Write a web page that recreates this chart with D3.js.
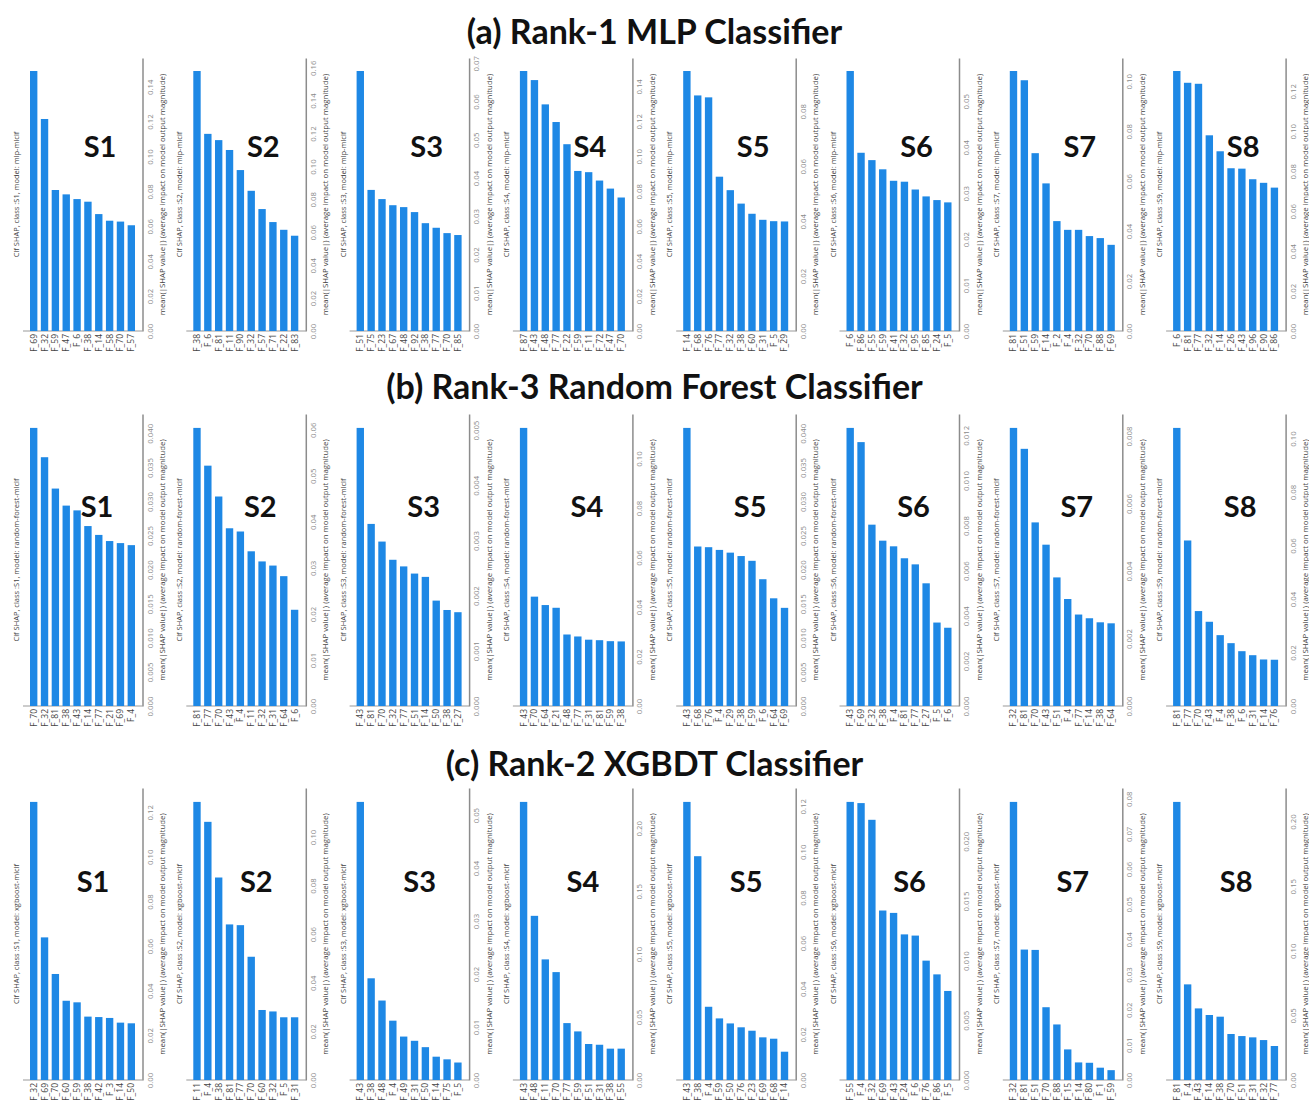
<!DOCTYPE html>
<html>
<head>
<meta charset="utf-8">
<script src="https://cdn.jsdelivr.net/npm/d3@7"></script>
<style>
body { margin: 0; background: #fff; }
</style>
</head>
<body>
<div id="chart-area"></div>
<script>
// Panel names and the class tag printed in each rotated title
var classes = ["S1", "S2", "S3", "S4", "S5", "S6", "S7", "S8"];
var classTags = ["S1", "S2", "S3", "S4", "S5", "S6", "S7", "S9"];

// (a) Rank-1 MLP
var mlpFeatures = [
	["F_69","F_32","F_59","F_47","F_6","F_38","F_14","F_58","F_70","F_57"],
	["F_38","F_6","F_81","F_11","F_90","F_32","F_57","F_71","F_22","F_83"],
	["F_51","F_75","F_23","F_67","F_48","F_92","F_38","F_77","F_70","F_85"],
	["F_87","F_43","F_48","F_77","F_22","F_59","F_11","F_72","F_47","F_70"],
	["F_14","F_68","F_76","F_77","F_32","F_38","F_60","F_31","F_5","F_29"],
	["F_6","F_86","F_55","F_59","F_41","F_32","F_95","F_85","F_24","F_5"],
	["F_81","F_51","F_59","F_14","F_2","F_4","F_32","F_70","F_88","F_69"],
	["F_6","F_81","F_77","F_32","F_14","F_26","F_43","F_96","F_90","F_86"]
];
var mlpValues = [
	[0.149, 0.1215, 0.0808, 0.0783, 0.0756, 0.0741, 0.0670, 0.0632, 0.0627, 0.0606],
	[0.158, 0.1198, 0.116, 0.110, 0.0978, 0.0852, 0.0741, 0.0662, 0.0615, 0.0579],
	[0.068, 0.0369, 0.0345, 0.0329, 0.0324, 0.0311, 0.0282, 0.0270, 0.0256, 0.0251],
	[0.1488, 0.1436, 0.1297, 0.1196, 0.1069, 0.0916, 0.0909, 0.0861, 0.0815, 0.0764],
	[0.0947, 0.0858, 0.0851, 0.0562, 0.0513, 0.0464, 0.0427, 0.0405, 0.0400, 0.0399],
	[0.0566, 0.0388, 0.0372, 0.0352, 0.0327, 0.0325, 0.0308, 0.0293, 0.0285, 0.0280],
	[0.1041, 0.1004, 0.0712, 0.0591, 0.0440, 0.0405, 0.0405, 0.0380, 0.0372, 0.0345],
	[0.1302, 0.1243, 0.1238, 0.098, 0.090, 0.0815, 0.0813, 0.076, 0.0742, 0.0718]
];
var mlpTicks = [
	["0.00","0.02","0.04","0.06","0.08","0.10","0.12","0.14"],
	["0.00","0.02","0.04","0.06","0.08","0.10","0.12","0.14","0.16"],
	["0.00","0.01","0.02","0.03","0.04","0.05","0.06","0.07"],
	["0.00","0.02","0.04","0.06","0.08","0.10","0.12","0.14"],
	["0.00","0.02","0.04","0.06","0.08"],
	["0.00","0.01","0.02","0.03","0.04","0.05"],
	["0.00","0.02","0.04","0.06","0.08","0.10"],
	["0.00","0.02","0.04","0.06","0.08","0.10","0.12"]
];

// (b) Rank-3 Random Forest
var rfFeatures = [
	["F_70","F_32","F_81","F_38","F_43","F_14","F_77","F_21","F_69","F_4"],
	["F_81","F_77","F_70","F_43","F_4","F_11","F_32","F_31","F_64","F_6"],
	["F_43","F_81","F_70","F_32","F_77","F_51","F_14","F_50","F_38","F_27"],
	["F_43","F_70","F_64","F_21","F_48","F_77","F_31","F_81","F_59","F_38"],
	["F_43","F_68","F_76","F_4","F_29","F_38","F_59","F_6","F_64","F_69"],
	["F_43","F_69","F_32","F_38","F_4","F_81","F_77","F_27","F_5","F_6"],
	["F_32","F_81","F_70","F_43","F_51","F_4","F_77","F_14","F_38","F_64"],
	["F_81","F_77","F_70","F_43","F_4","F_38","F_6","F_31","F_14","F_76"]
];
var rfValues = [
	[0.0408, 0.0365, 0.0319, 0.0294, 0.0287, 0.0264, 0.0251, 0.0242, 0.0239, 0.0236],
	[0.0604, 0.0522, 0.0455, 0.0386, 0.0379, 0.0336, 0.0314, 0.0305, 0.0282, 0.0209],
	[0.00504, 0.0033, 0.00298, 0.00265, 0.00253, 0.0024, 0.00234, 0.00191, 0.00174, 0.0017],
	[0.1124, 0.0442, 0.0408, 0.0397, 0.0289, 0.0281, 0.0268, 0.0266, 0.0262, 0.0261],
	[0.0408, 0.0234, 0.0233, 0.0229, 0.0225, 0.0220, 0.0213, 0.0186, 0.0158, 0.0144],
	[0.01233, 0.0117, 0.00804, 0.00733, 0.00708, 0.00655, 0.00628, 0.00544, 0.0037, 0.00347],
	[0.00824, 0.00762, 0.00544, 0.00478, 0.00381, 0.00317, 0.00271, 0.0026, 0.00248, 0.00245],
	[0.104, 0.0619, 0.0355, 0.0315, 0.0265, 0.0235, 0.0205, 0.019, 0.0174, 0.0173]
];
var rfTicks = [
	["0.000","0.005","0.010","0.015","0.020","0.025","0.030","0.035","0.040"],
	["0.00","0.01","0.02","0.03","0.04","0.05","0.06"],
	["0.000","0.001","0.002","0.003","0.004","0.005"],
	["0.00","0.02","0.04","0.06","0.08","0.10"],
	["0.000","0.005","0.010","0.015","0.020","0.025","0.030","0.035","0.040"],
	["0.000","0.002","0.004","0.006","0.008","0.010","0.012"],
	["0.000","0.002","0.004","0.006","0.008"],
	["0.00","0.02","0.04","0.06","0.08","0.10"]
];

// (c) Rank-2 XGBDT
var xgbFeatures = [
	["F_32","F_69","F_70","F_60","F_59","F_38","F_42","F_3","F_14","F_50"],
	["F_11","F_4","F_38","F_81","F_77","F_70","F_60","F_32","F_5","F_31"],
	["F_43","F_38","F_48","F_4","F_49","F_31","F_50","F_14","F_75","F_5"],
	["F_43","F_48","F_11","F_70","F_77","F_59","F_51","F_31","F_38","F_55"],
	["F_43","F_38","F_4","F_59","F_50","F_76","F_23","F_69","F_68","F_14"],
	["F_55","F_4","F_32","F_69","F_43","F_24","F_6","F_76","F_86","F_5"],
	["F_32","F_81","F_51","F_70","F_88","F_15","F_14","F_80","F_1","F_59"],
	["F_81","F_4","F_43","F_14","F_38","F_70","F_51","F_31","F_32","F_77"]
];
var xgbValues = [
	[0.1246, 0.0639, 0.0475, 0.0355, 0.0348, 0.0284, 0.0282, 0.0278, 0.0257, 0.0254],
	[0.1144, 0.1062, 0.0833, 0.064, 0.0637, 0.0507, 0.0288, 0.0282, 0.0258, 0.0258],
	[0.0525, 0.0192, 0.015, 0.0112, 0.0082, 0.0074, 0.0062, 0.0044, 0.0039, 0.0033],
	[0.2209, 0.1304, 0.0958, 0.0857, 0.0452, 0.0386, 0.0286, 0.028, 0.0249, 0.0249],
	[0.1219, 0.0981, 0.0321, 0.027, 0.0248, 0.0231, 0.0216, 0.0187, 0.0181, 0.0124],
	[0.0233, 0.0232, 0.0218, 0.0142, 0.014, 0.0122, 0.0121, 0.01, 0.00885, 0.00746],
	[0.0791, 0.0371, 0.037, 0.0207, 0.0158, 0.0087, 0.005, 0.0049, 0.0035, 0.0028],
	[0.2152, 0.074, 0.0554, 0.0503, 0.049, 0.0356, 0.034, 0.033, 0.0309, 0.0263]
];
var xgbTicks = [
	["0.00","0.02","0.04","0.06","0.08","0.10","0.12"],
	["0.00","0.02","0.04","0.06","0.08","0.10"],
	["0.00","0.01","0.02","0.03","0.04","0.05"],
	["0.00","0.05","0.10","0.15","0.20"],
	["0.00","0.02","0.04","0.06","0.08","0.10","0.12"],
	["0.000","0.005","0.010","0.015","0.020"],
	["0.00","0.01","0.02","0.03","0.04","0.05","0.06","0.07","0.08"],
	["0.00","0.05","0.10","0.15","0.20"]
];

// Row layout
var rows = [
	{ title: "(a) Rank-1 MLP Classifier", model: "mlp-mlclf", titleY: 30,
	  top: 58, bottom: 331, sx: 70, sy: 145,
	  features: mlpFeatures, values: mlpValues, ticks: mlpTicks },
	{ title: "(b) Rank-3 Random Forest Classifier", model: "random-forest-mlclf", titleY: 385,
	  top: 414, bottom: 706, sx: 67, sy: 505,
	  features: rfFeatures, values: rfValues, ticks: rfTicks },
	{ title: "(c) Rank-2 XGBDT Classifier", model: "xgboost-mlclf", titleY: 762,
	  top: 788, bottom: 1080, sx: 63, sy: 880,
	  features: xgbFeatures, values: xgbValues, ticks: xgbTicks }
];

var width = 1309, height = 1100;
var firstBar = 30, panelStep = 163.3, barSpan = 105, axisGap = 112.5;
var smallFont = "'Open Sans', 'DejaVu Sans', sans-serif";
var bigFont = "Lato, 'Open Sans', sans-serif";

var svg = d3.select("#chart-area")
	.append("svg")
		.attr("width", width)
		.attr("height", height);

rows.forEach(function(row) {
	// Row heading
	svg.append("text")
		.attr("x", width / 2)
		.attr("y", row.titleY)
		.attr("dominant-baseline", "central")
		.attr("text-anchor", "middle")
		.attr("font-family", bigFont)
		.attr("font-weight", "bold")
		.attr("font-size", 34)
		.attr("fill", "#111")
		.text(row.title);

	classes.forEach(function(cls, i) {
		var bx = firstBar + i * panelStep;
		var feats = row.features[i];
		var vals = row.values[i];
		var tickLabels = row.ticks[i];
		var ax = bx + axisGap;
		var mid = (row.top + row.bottom) / 2;

		var x = d3.scaleBand()
			.domain(feats)
			.range([bx, bx + barSpan])
			.paddingInner(0.32)
			.paddingOuter(0);

		var y = d3.scaleLinear()
			.domain([0, d3.max(vals) * 1.05])
			.range([row.bottom, row.top]);

		var g = svg.append("g");

		// Baseline under the bars
		g.append("line")
			.attr("x1", bx - 7)
			.attr("x2", ax)
			.attr("y1", row.bottom)
			.attr("y2", row.bottom)
			.attr("stroke", "#999")
			.attr("stroke-width", 1);

		// Bars
		g.selectAll("rect")
			.data(vals)
			.enter()
			.append("rect")
				.attr("x", (d, j) => x(feats[j]))
				.attr("y", (d) => y(d))
				.attr("width", x.bandwidth())
				.attr("height", (d) => row.bottom - y(d))
				.attr("fill", "#1E88E5");

		// Value axis on the right, labels turned upright
		var yAxisCall = d3.axisRight(y)
			.tickValues(tickLabels.map(Number))
			.tickFormat((d, j) => tickLabels[j])
			.tickSize(0)
			.tickSizeOuter(0);

		var ag = g.append("g")
			.attr("transform", `translate(${ax},0)`)
			.call(yAxisCall);
		ag.select(".domain")
			.attr("stroke", "#8c8c8c")
			.attr("stroke-width", 1.5);
		ag.selectAll("text")
			.attr("x", null)
			.attr("y", null)
			.attr("dy", "0.71em")
			.attr("transform", "translate(4.5,0) rotate(-90)")
			.attr("text-anchor", "middle")
			.attr("font-family", smallFont)
			.attr("font-size", 7.8)
			.attr("fill", "#8a8a8a");

		// Feature names under the bars
		g.selectAll(".feat")
			.data(feats)
			.enter()
			.append("text")
				.attr("class", "feat")
				.attr("transform", (d) => `translate(${x(d) + x.bandwidth() / 2},${row.bottom + 3}) rotate(-90)`)
				.attr("text-anchor", "end")
				.attr("dy", "0.35em")
				.attr("font-family", smallFont)
				.attr("font-size", 8.5)
				.attr("fill", "#444")
				.text((d) => d);

		// Rotated panel title on the left
		g.append("text")
			.attr("transform", `translate(${bx - 14},${mid}) rotate(-90)`)
			.attr("text-anchor", "middle")
			.attr("dominant-baseline", "central")
			.attr("font-family", smallFont)
			.attr("font-size", 7.5)
			.attr("fill", "#444")
			.text(`Clf SHAP, class :${classTags[i]}, model: ${row.model}`);

		// Axis title
		g.append("text")
			.attr("transform", `translate(${bx + 132},${mid}) rotate(-90)`)
			.attr("text-anchor", "middle")
			.attr("dominant-baseline", "central")
			.attr("font-family", smallFont)
			.attr("font-size", 7.8)
			.attr("fill", "#444")
			.text("mean(|SHAP value|) (average impact on model output magnitude)");

		// Big class label
		g.append("text")
			.attr("x", bx + row.sx)
			.attr("y", row.sy)
			.attr("text-anchor", "middle")
			.attr("dominant-baseline", "central")
			.attr("font-family", bigFont)
			.attr("font-weight", "bold")
			.attr("font-size", 29)
			.attr("fill", "#111")
			.text(cls);
	});
});
</script>
</body>
</html>
